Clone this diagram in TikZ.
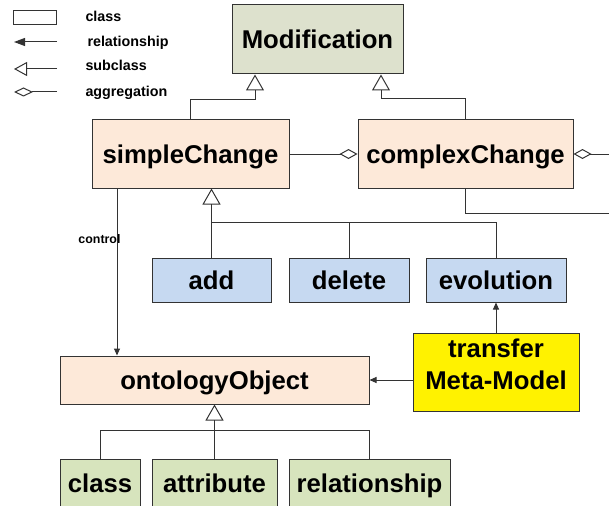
\documentclass[tikz,border=0pt]{standalone}
\usepackage{fontspec}
\setmainfont{Liberation Sans}
\usetikzlibrary{arrows.meta}

\definecolor{modgreen}{RGB}{221,225,205}
\definecolor{clsgreen}{RGB}{215,228,189}
\definecolor{peach}{RGB}{253,233,217}
\definecolor{opblue}{RGB}{198,217,241}
\colorlet{ln}{black!80}

\begin{document}
\begin{tikzpicture}[x=1pt, y=-1pt, line width=1pt,
	big/.style={font=\bfseries\fontsize{25.7}{32}\selectfont},
	box/.style={rectangle, draw=ln, inner sep=0pt, big, text height=18.5pt, text depth=0pt},
	legend/.style={anchor=west, inner sep=0pt, text height=10pt, text depth=0pt, font=\bfseries\fontsize{14.3}{17}\selectfont},
	line/.style={draw=ln},
	rel/.style={draw=ln, -{Triangle[length=7pt,width=6pt]}},
	subcl/.style={draw=ln, -{Triangle[open,length=16pt,width=18pt]}},
	aggr/.style={draw=ln, -{Diamond[open,length=18pt,width=10pt]}}]

		\useasboundingbox (0,0) rectangle (609,505);

		% legend
		\node[draw=ln, minimum width=43pt, minimum height=14pt, inner sep=0pt] (legClass) at (34.5,18) {};
		\node[legend] (legClassTxt) at (85,17) {class};
		\coordinate (legRelA) at (57,42);
		\coordinate (legRelB) at (14,42);
		\draw[draw=ln, -{Triangle[length=11pt,width=8pt]}] (legRelA) -- (legRelB);
		\node[legend] (legRelTxt) at (87,42) {relationship};
		\coordinate (legSubA) at (57,69);
		\coordinate (legSubB) at (14,69);
		\draw[draw=ln, -{Triangle[open,length=13pt,width=14pt]}] (legSubA) -- (legSubB);
		\node[legend] (legSubTxt) at (85,66) {subclass};
		\coordinate (legAggA) at (57,92);
		\coordinate (legAggB) at (14,92);
		\draw[draw=ln, -{Diamond[open,length=19pt,width=9pt]}] (legAggA) -- (legAggB);
		\node[legend] (legAggTxt) at (85,92) {aggregation};

		% classes
		\node[box, fill=modgreen, minimum width=171pt, minimum height=69pt] (modification) at (317.5,39.5) {Modification};
		\node[box, fill=peach, minimum width=197pt, minimum height=68pt] (simpleChange) at (190.5,154) {simpleChange};
		\node[box, fill=peach, minimum width=215pt, minimum height=69pt] (complexChange) [right of=simpleChange, node distance=275pt] {complexChange};

		\node[box, fill=opblue, minimum width=119pt, minimum height=44pt] (add) at (211.5,280) {add};
		\node[box, fill=opblue, minimum width=120pt, minimum height=44pt] (delete) [right of=add, node distance=137.5pt] {delete};
		\node[box, fill=opblue, minimum width=140pt, minimum height=44pt] (evolution) [right of=delete, node distance=147pt] {evolution};
		\node[box, fill=yellow, minimum width=166pt, minimum height=78pt,
			label={[big, align=center, yshift=8pt]center:transfer\\Meta-Model}] (transfer) [below of=evolution, node distance=92pt] {};

		\node[box, fill=peach, minimum width=309pt, minimum height=48pt] (ontologyObject) at (214.5,380) {ontologyObject};
		\node[box, fill=clsgreen, minimum width=80pt, minimum height=48pt] (class) at (100,483) {class};
		\node[box, fill=clsgreen, minimum width=125pt, minimum height=48pt] (attribute) [right of=class, node distance=114.5pt] {attribute};
		\node[box, fill=clsgreen, minimum width=161pt, minimum height=48pt] (relationship) [right of=attribute, node distance=155pt] {relationship};

		% connectors
		\coordinate (modL) at ([xshift=-62.5pt]modification.south);
		\coordinate (modR) at ([xshift=63.5pt]modification.south);
		\draw[subcl] (simpleChange.north) -- ++(0,-20) -| (modL);
		\draw[subcl] (complexChange.north) -- ++(0,-20) -| (modR);

		\coordinate (ccOut) at (615,154);
		\coordinate (ccDown) at (615,213);
		\draw[aggr] (simpleChange) -- (complexChange);
		\draw[aggr] (ccOut) -- (complexChange);
		\draw[line] (complexChange.south) |- (ccDown);

		\coordinate (ctrl) at ([xshift=-73.5pt]simpleChange.south);
		\draw[rel] (ctrl) -- (ctrl |- ontologyObject.north)
			node[pos=0.3, anchor=east, xshift=4pt, inner sep=0pt, font=\bfseries\fontsize{12.4}{15}\selectfont] {control};

		\coordinate (opBus) at ([yshift=35pt]add.north);
		\draw[subcl] (add.north) -- (add.north |- simpleChange.south);
		\draw[line] (delete.north) |- (opBus);
		\draw[line] (evolution.north) |- (opBus);

		\draw[rel] (transfer) -- (evolution);
		\draw[rel] (transfer.west |- ontologyObject) -- (ontologyObject);

		\coordinate (objBus) at ([yshift=28pt]attribute.north);
		\draw[subcl] (attribute) -- (ontologyObject);
		\draw[line] (class.north) |- (objBus);
		\draw[line] (relationship.north) |- (objBus);

\end{tikzpicture}
\end{document}
